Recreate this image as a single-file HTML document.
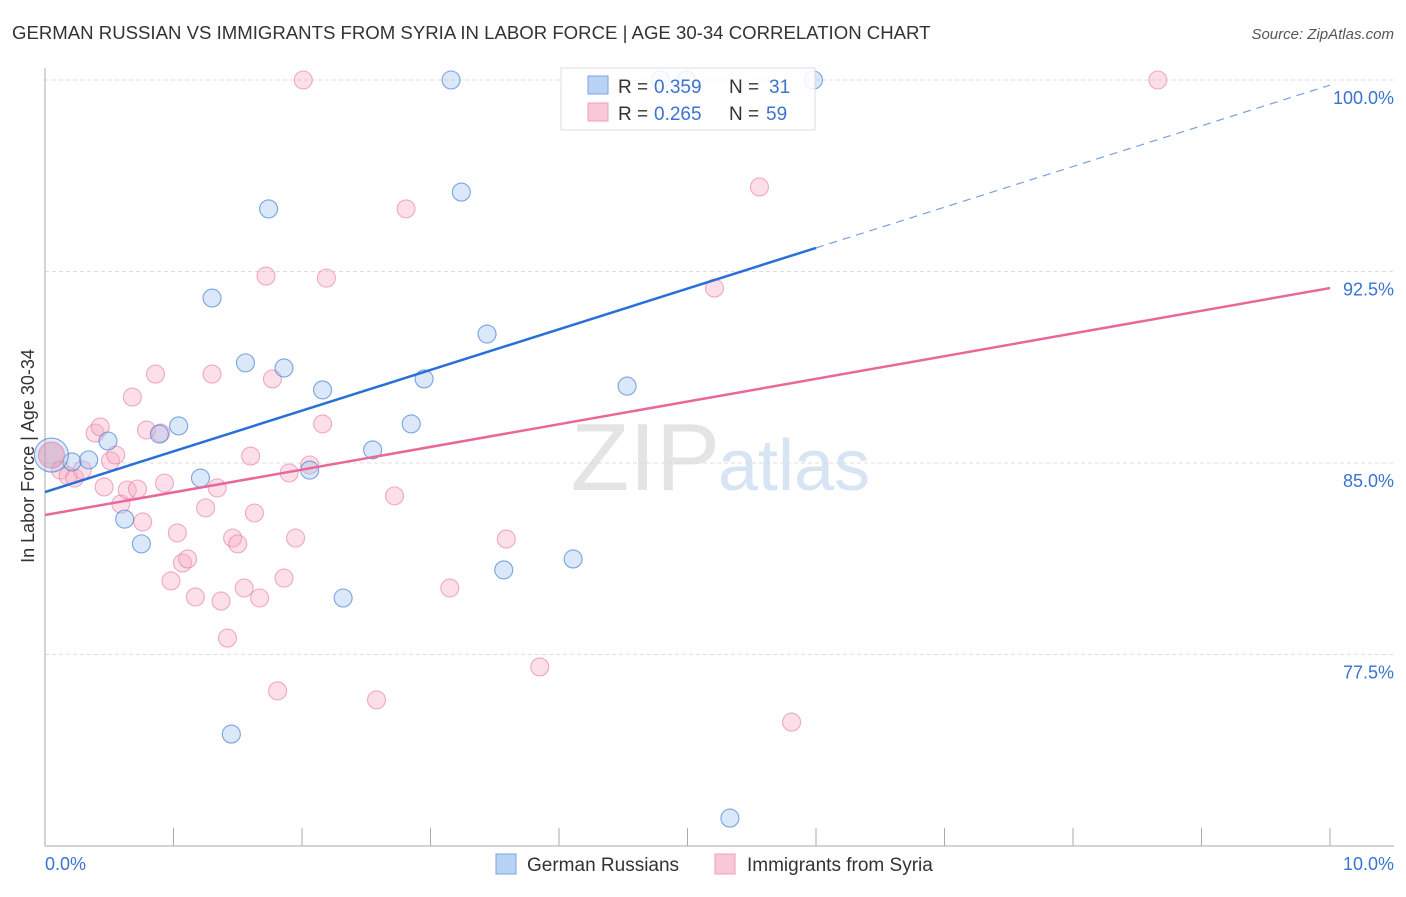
<!DOCTYPE html>
<html><head><meta charset="utf-8"><style>
body{margin:0;background:#fff;font-family:"Liberation Sans",sans-serif}
svg text{font-family:"Liberation Sans",sans-serif}
</style></head><body>
<svg id="c" width="1406" height="892">
<text x="12" y="39" font-size="18.6" fill="#333">GERMAN RUSSIAN VS IMMIGRANTS FROM SYRIA IN LABOR FORCE | AGE 30-34 CORRELATION CHART</text>
<text x="1394" y="39" font-size="15" fill="#555" text-anchor="end" font-style="italic">Source: ZipAtlas.com</text>
<text x="720" y="490" font-size="96" fill="#e4e4e4" text-anchor="end" font-family="Liberation Serif">ZIP</text>
<text x="718" y="490" font-size="72" fill="#d6e4f4">atlas</text>
<text transform="translate(34,456) rotate(-90)" font-size="18" fill="#333" text-anchor="middle">In Labor Force | Age 30-34</text>
<g id="grid"></g><g id="pts"></g><g id="lines"></g>
<g>
<rect x="561" y="68" width="254" height="62" fill="#fff" fill-opacity="0.85" stroke="#ddd"/>
<rect x="588" y="76" width="20" height="18" fill="#b9d3f5" stroke="#7aa6e0"/>
<rect x="588" y="103" width="20" height="18" fill="#f9c8d6" stroke="#eea0b8"/>
<text x="618" y="93" font-size="19" fill="#333">R =</text>
<text x="654" y="93" font-size="19" fill="#3a73d0">0.359</text>
<text x="729" y="93" font-size="19" fill="#333">N =</text>
<text x="769" y="93" font-size="19" fill="#3a73d0">31</text>
<text x="618" y="120" font-size="19" fill="#333">R =</text>
<text x="654" y="120" font-size="19" fill="#3a73d0">0.265</text>
<text x="729" y="120" font-size="19" fill="#333">N =</text>
<text x="766" y="120" font-size="19" fill="#3a73d0">59</text>
</g>
<g>
<rect x="496" y="854" width="20" height="20" fill="#b9d3f5" stroke="#7aa6e0"/>
<text x="527" y="871" font-size="19" fill="#333">German Russians</text>
<rect x="715" y="854" width="20" height="20" fill="#f9c8d6" stroke="#eea0b8"/>
<text x="747" y="871" font-size="19" fill="#333">Immigrants from Syria</text>
</g>
<text x="45" y="870" font-size="18" fill="#3a73d0">0.0%</text>
<text x="1394" y="870" font-size="18" fill="#3a73d0" text-anchor="end">10.0%</text>
</svg>
<script>
const yTicks=[100,92.5,85,77.5];
const yTickLabels=["100.0%","92.5%","85.0%","77.5%"];
const blueX=[0.21,0.49,0.34,0.62,0.75,0.89,1.04,1.21,1.30,1.45,1.56,1.74,1.86,2.06,2.16,2.32,2.55,2.85,2.95,3.16,3.24,3.44,3.57,4.11,4.53,4.79,4.99,5.33,5.98];
const blueY=[85.04,85.86,85.12,82.80,81.83,86.13,86.45,84.41,91.46,74.38,88.92,94.95,88.72,84.72,87.86,79.71,85.51,86.53,88.29,100,95.61,90.05,80.81,81.24,88.01,100,100,71.09,100];
const pinkX=[0.12,0.18,0.23,0.29,0.39,0.43,0.46,0.51,0.55,0.59,0.64,0.68,0.72,0.76,0.79,0.86,0.90,0.93,0.98,1.03,1.07,1.11,1.17,1.25,1.30,1.34,1.37,1.42,1.46,1.50,1.55,1.60,1.63,1.67,1.72,1.77,1.81,1.86,1.90,1.95,2.01,2.06,2.16,2.19,2.58,2.72,2.81,3.15,3.59,3.85,5.21,5.56,5.81,8.66];
const pinkY=[84.72,84.49,84.41,84.72,86.17,86.41,84.06,85.08,85.31,83.39,83.94,87.58,83.98,82.69,86.29,88.48,86.17,84.21,80.38,82.26,81.08,81.24,79.75,83.24,88.48,84.02,79.59,78.14,82.06,81.83,80.10,85.27,83.04,79.71,92.32,88.29,76.07,80.49,84.61,82.06,100,84.92,86.53,92.24,75.72,83.71,94.95,80.10,82.02,77.01,91.85,95.81,74.85,100];
const bigX=[0.05], bigY=[85.31];
const blueTrend=[83.86,99.8], pinkTrend=[82.96,91.85];
const NS="http://www.w3.org/2000/svg";
const X=v=>45+v*128.5, Y=v=>80+(100-v)*25.53;
function mk(t,a,p){const e=document.createElementNS(NS,t);for(const k in a)e.setAttribute(k,a[k]);p.appendChild(e);return e;}
const g=document.getElementById('grid');
yTicks.forEach((t,i)=>{
 const l=mk('line',{x1:45,x2:1394,y1:Y(t),y2:Y(t),stroke:'#ddd','stroke-dasharray':'4,3'},g);
 
 
 const tx=mk('text',{x:1394,y:Y(t)+24,'font-size':18,fill:'#3a73d0','text-anchor':'end'},g);
 tx.textContent=yTickLabels[i];
 
 
});
mk('line',{x1:45,x2:45,y1:68,y2:846,stroke:'#aaa'},g);
mk('line',{x1:45,x2:1394,y1:846,y2:846,stroke:'#aaa'},g);
for(let i=0;i<=10;i++){const t=mk('line',{x1:X(i),x2:X(i),y1:828,y2:846,stroke:'#aaa'},g);}
const p=document.getElementById('pts');
function dot(x,y,r,fill,stroke,name){const c=mk('circle',{cx:X(x),cy:Y(y),r:r,fill:fill,stroke:stroke,'stroke-width':1.1},p);
 
 }
pinkX.forEach((x,i)=>dot(x,pinkY[i],9,'rgba(246,170,195,0.38)','rgba(232,120,160,0.6)','syria-point'));
blueX.forEach((x,i)=>dot(x,blueY[i],9,'rgba(160,195,240,0.38)','rgba(70,130,210,0.7)','german-russian-point'));
bigX.forEach((x,i)=>{dot(x,bigY[i],17,'rgba(160,195,240,0.35)','rgba(70,130,210,0.7)','german-russian-point-large');dot(x,bigY[i],13,'rgba(220,140,170,0.45)','rgba(232,120,160,0.6)','syria-point-large');});
const L=document.getElementById('lines');
const b1=mk('line',{x1:X(0),y1:Y(blueTrend[0]),x2:X(6),y2:Y(blueTrend[0]+(blueTrend[1]-blueTrend[0])*0.6),stroke:'#2a6fd6','stroke-width':2.5},L);


const b2=mk('line',{x1:X(6),y1:Y(blueTrend[0]+(blueTrend[1]-blueTrend[0])*0.6),x2:X(10),y2:Y(blueTrend[1]),stroke:'#7ba0d8','stroke-width':1.2,'stroke-dasharray':'8,6'},L);


const pl=mk('line',{x1:X(0),y1:Y(pinkTrend[0]),x2:X(10),y2:Y(pinkTrend[1]),stroke:'#e8689a','stroke-width':2.5},L);


</script>
</body></html>
